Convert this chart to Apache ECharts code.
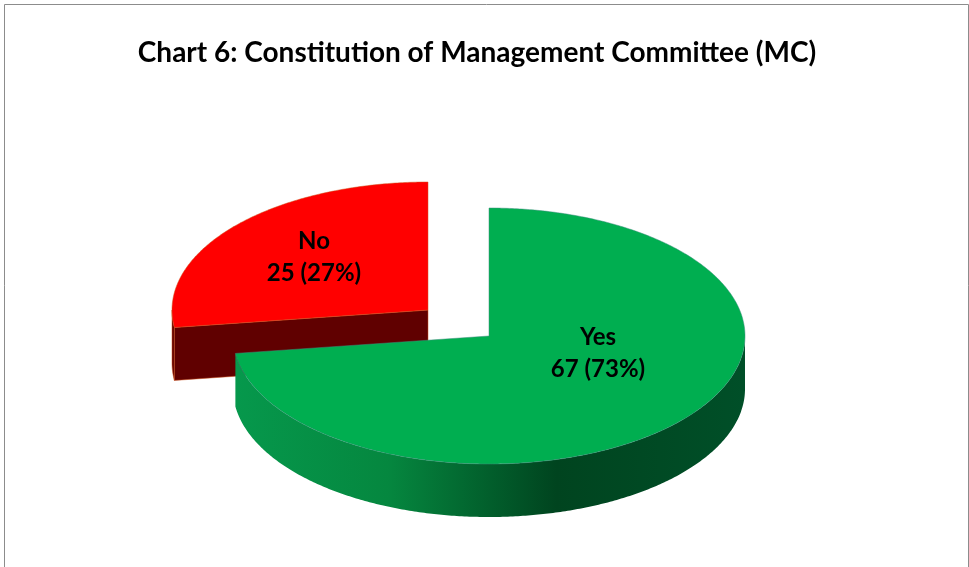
<!DOCTYPE html>
<html>
<head>
<meta charset="utf-8">
<title>Chart 6</title>
<style>
  html, body { margin: 0; padding: 0; background: #fff; }
  #chart { width: 969px; height: 567px; }
</style>
<script src="https://cdn.jsdelivr.net/npm/echarts@6/dist/echarts.min.js"></script>
</head>
<body>
<div id="chart"></div>
<script>
var chartTitle = 'Chart 6: Constitution of Management Committee (MC)';
var categories = ['Yes', 'No'];
var counts = [67, 25];
var percentLabels = ['73%', '27%'];

// the ECharts pie has no 3D, so the slices are drawn by a custom series
var rx = 256, ry = 128, depth = 53;
var centers = [[489, 336], [428, 310]];
var labelPos = [[598, 353], [314, 257]];
var fontName = 'Lato, "Open Sans", sans-serif';

var total = 0;
for (var i = 0; i < counts.length; i++) {
  total += counts[i];
}

function pt(c, a, dy) {
  return [c[0] + rx * Math.sin(a), c[1] - ry * Math.cos(a) + (dy || 0)];
}

function arc(c, a0, a1, dy) {
  var pts = [];
  var n = Math.max(2, Math.ceil(Math.abs(a1 - a0) / 0.01));
  for (var i = 0; i <= n; i++) {
    pts.push(pt(c, a0 + (a1 - a0) * i / n, dy));
  }
  return pts;
}

var styles = [
  {
    top: '#00ae50',
    edge: '#3d8f7c',
    wall: new echarts.graphic.LinearGradient(0, 0, 1, 0, [
      { offset: 0, color: '#06984c' },
      { offset: 0.3, color: '#05873f' },
      { offset: 0.63, color: '#00441f' },
      { offset: 1, color: '#004f28' }
    ]),
    face: '#007a38'
  },
  { top: '#ff0000', edge: '#d0521c', wall: '#600000', face: '#600000' }
];

function renderSlice(params, api) {
  var idx = params.dataIndex;
  var before = 0;
  for (var i = 0; i < idx; i++) {
    before += counts[i];
  }
  var a0 = before / total * Math.PI * 2;
  var a1 = (before + api.value(0)) / total * Math.PI * 2;
  var c = centers[idx];
  var st = styles[idx];
  var z = idx == 0 ? 10 : 1;
  var kids = [];

  // outer wall, only the part that faces the viewer
  var w0 = Math.max(a0, Math.PI / 2), w1 = Math.min(a1, Math.PI * 1.5);
  if (w1 > w0) {
    var wall = arc(c, w0, w1, 0).concat(arc(c, w1, w0, depth));
    kids.push({
      type: 'polygon', z2: z,
      shape: { points: wall },
      style: { fill: st.wall, stroke: idx == 1 ? st.edge : null, lineWidth: 0.5 }
    });
  }

  // cut face below the start edge
  if (Math.sin(a0) < -0.001) {
    var p = pt(c, a0);
    kids.push({
      type: 'polygon', z2: z,
      shape: { points: [c, p, [p[0], p[1] + depth], [c[0], c[1] + depth]] },
      style: { fill: st.face, stroke: st.edge, lineWidth: 0.5 }
    });
  }

  // top of the slice
  kids.push({
    type: 'polygon', z2: z + 1,
    shape: { points: [c].concat(arc(c, a0, a1, 0)) },
    style: { fill: st.top, stroke: st.edge, lineWidth: 0.5 }
  });

  kids.push({
    type: 'text', z2: 20,
    x: labelPos[idx][0], y: labelPos[idx][1],
    style: {
      text: categories[idx] + '\n' + api.value(0) + ' (' + percentLabels[idx] + ')',
      align: 'center', verticalAlign: 'middle',
      font: 'bold 24px ' + fontName,
      lineHeight: 32,
      fill: '#000'
    }
  });

  return { type: 'group', children: kids };
}

var chart = echarts.init(document.getElementById('chart'), null, { renderer: 'canvas' });

var seriesData = [];
for (var j = 0; j < counts.length; j++) {
  seriesData.push({ name: categories[j], value: [counts[j]] });
}

chart.setOption({
  animation: false,
  backgroundColor: '#fff',
  title: {
    text: chartTitle,
    left: 472,
    top: 34,
    textAlign: 'center',
    textStyle: { fontFamily: fontName, fontWeight: 'bold', fontSize: 28, color: '#000' }
  },
  graphic: [{
    type: 'polyline',
    shape: { points: [[4.5, 567], [4.5, 4.5], [968.5, 4.5], [968.5, 567]] },
    style: { stroke: '#8c8c8c', lineWidth: 1, fill: null },
    silent: true
  }],
  series: [{
    type: 'custom',
    coordinateSystem: 'none',
    renderItem: renderSlice,
    data: seriesData,
    silent: true
  }]
});
</script>
</body>
</html>
